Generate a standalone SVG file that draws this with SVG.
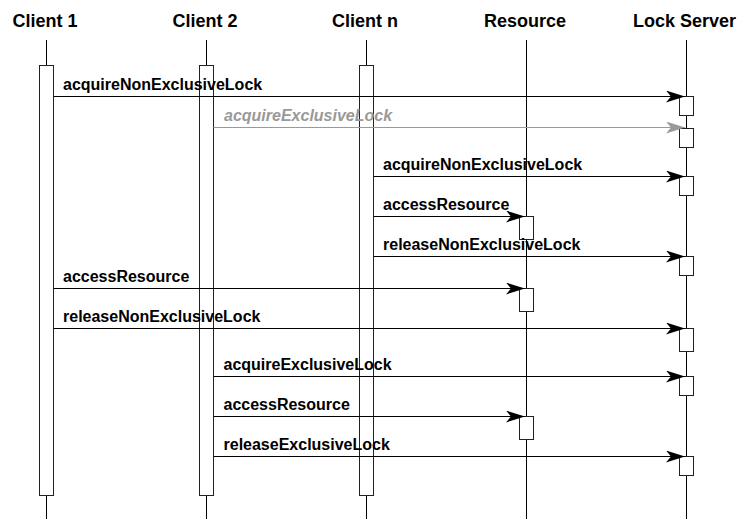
<svg xmlns="http://www.w3.org/2000/svg" width="740" height="519" viewBox="0 0 740 519">
<style>
.hdr{font-family:"Liberation Sans",Arial,sans-serif;font-weight:bold;font-size:18px;fill:#000;text-anchor:middle}
.lbl{font-family:"Liberation Sans",Arial,sans-serif;font-weight:bold;font-size:16px;fill:#000}
.lbl.gray{fill:#999;font-style:italic}
.life{stroke:#000;stroke-width:1;fill:none}
.act{fill:#fff;stroke:#222;stroke-width:1}
.msg{stroke:#000;stroke-width:1;fill:none;marker-end:url(#ah)}
.msg.gray{stroke:#999;marker-end:url(#ahg)}
</style>
<defs>
<marker id="ah" viewBox="0 0 19 12" refX="19" refY="6" markerWidth="19" markerHeight="12" markerUnits="userSpaceOnUse" orient="auto"><path d="M0,0 L19,6 L0,12 L5,6 Z" fill="#000"/></marker>
<marker id="ahg" viewBox="0 0 19 12" refX="19" refY="6" markerWidth="19" markerHeight="12" markerUnits="userSpaceOnUse" orient="auto"><path d="M0,0 L19,6 L0,12 L5,6 Z" fill="#999"/></marker>
</defs>
<rect width="740" height="519" fill="#fff"/>
<g id="client1">
<text class="hdr" x="45" y="26.5">Client 1</text>
<line class="life" x1="46.5" y1="40" x2="46.5" y2="519"/>
<rect class="act" x="39.5" y="65.5" width="14" height="430"/>
</g>
<g id="client2">
<text class="hdr" x="205" y="26.5">Client 2</text>
<line class="life" x1="206.5" y1="40" x2="206.5" y2="519"/>
<rect class="act" x="199.5" y="65.5" width="14" height="430"/>
</g>
<g id="clientn">
<text class="hdr" x="365" y="26.5">Client n</text>
<line class="life" x1="366.5" y1="40" x2="366.5" y2="519"/>
<rect class="act" x="359.5" y="65.5" width="14" height="430"/>
</g>
<g id="resource">
<text class="hdr" x="525" y="26.5">Resource</text>
<line class="life" x1="526.5" y1="40" x2="526.5" y2="519"/>
<rect class="act" x="519.5" y="216.5" width="14" height="23"/>
<rect class="act" x="519.5" y="288.5" width="14" height="23"/>
<rect class="act" x="519.5" y="416.5" width="14" height="23"/>
</g>
<g id="lockserver">
<text class="hdr" x="684.5" y="26.5">Lock Server</text>
<line class="life" x1="686.5" y1="40" x2="686.5" y2="519"/>
<rect class="act" x="679.5" y="96.5" width="14" height="19"/>
<rect class="act" x="679.5" y="128.5" width="14" height="19"/>
<rect class="act" x="679.5" y="176.5" width="14" height="19"/>
<rect class="act" x="679.5" y="256.5" width="14" height="19"/>
<rect class="act" x="679.5" y="328.5" width="14" height="23"/>
<rect class="act" x="679.5" y="376.5" width="14" height="19"/>
<rect class="act" x="679.5" y="456.5" width="14" height="19"/>
</g>
<g id="connectors">
<line class="msg" x1="53.5" y1="96.5" x2="685" y2="96.5"/>
<text class="lbl" x="63" y="90">acquireNonExclusiveLock</text>
<line class="msg gray" x1="213.5" y1="127.5" x2="685" y2="127.5"/>
<text class="lbl gray" x="224" y="120.5">acquireExclusiveLock</text>
<line class="msg" x1="373.5" y1="176.5" x2="685" y2="176.5"/>
<text class="lbl" x="383" y="170">acquireNonExclusiveLock</text>
<line class="msg" x1="373.5" y1="216.5" x2="525" y2="216.5"/>
<text class="lbl" x="383" y="210">accessResource</text>
<line class="msg" x1="373.5" y1="256.5" x2="685" y2="256.5"/>
<text class="lbl" x="383" y="250">releaseNonExclusiveLock</text>
<line class="msg" x1="53.5" y1="288.5" x2="525" y2="288.5"/>
<text class="lbl" x="63" y="282">accessResource</text>
<line class="msg" x1="53.5" y1="328.5" x2="685" y2="328.5"/>
<text class="lbl" x="63" y="322">releaseNonExclusiveLock</text>
<line class="msg" x1="213.5" y1="376.5" x2="685" y2="376.5"/>
<text class="lbl" x="223.5" y="370">acquireExclusiveLock</text>
<line class="msg" x1="213.5" y1="416.5" x2="525" y2="416.5"/>
<text class="lbl" x="223.5" y="410">accessResource</text>
<line class="msg" x1="213.5" y1="456.5" x2="685" y2="456.5"/>
<text class="lbl" x="223.5" y="450">releaseExclusiveLock</text>
</g>
</svg>
